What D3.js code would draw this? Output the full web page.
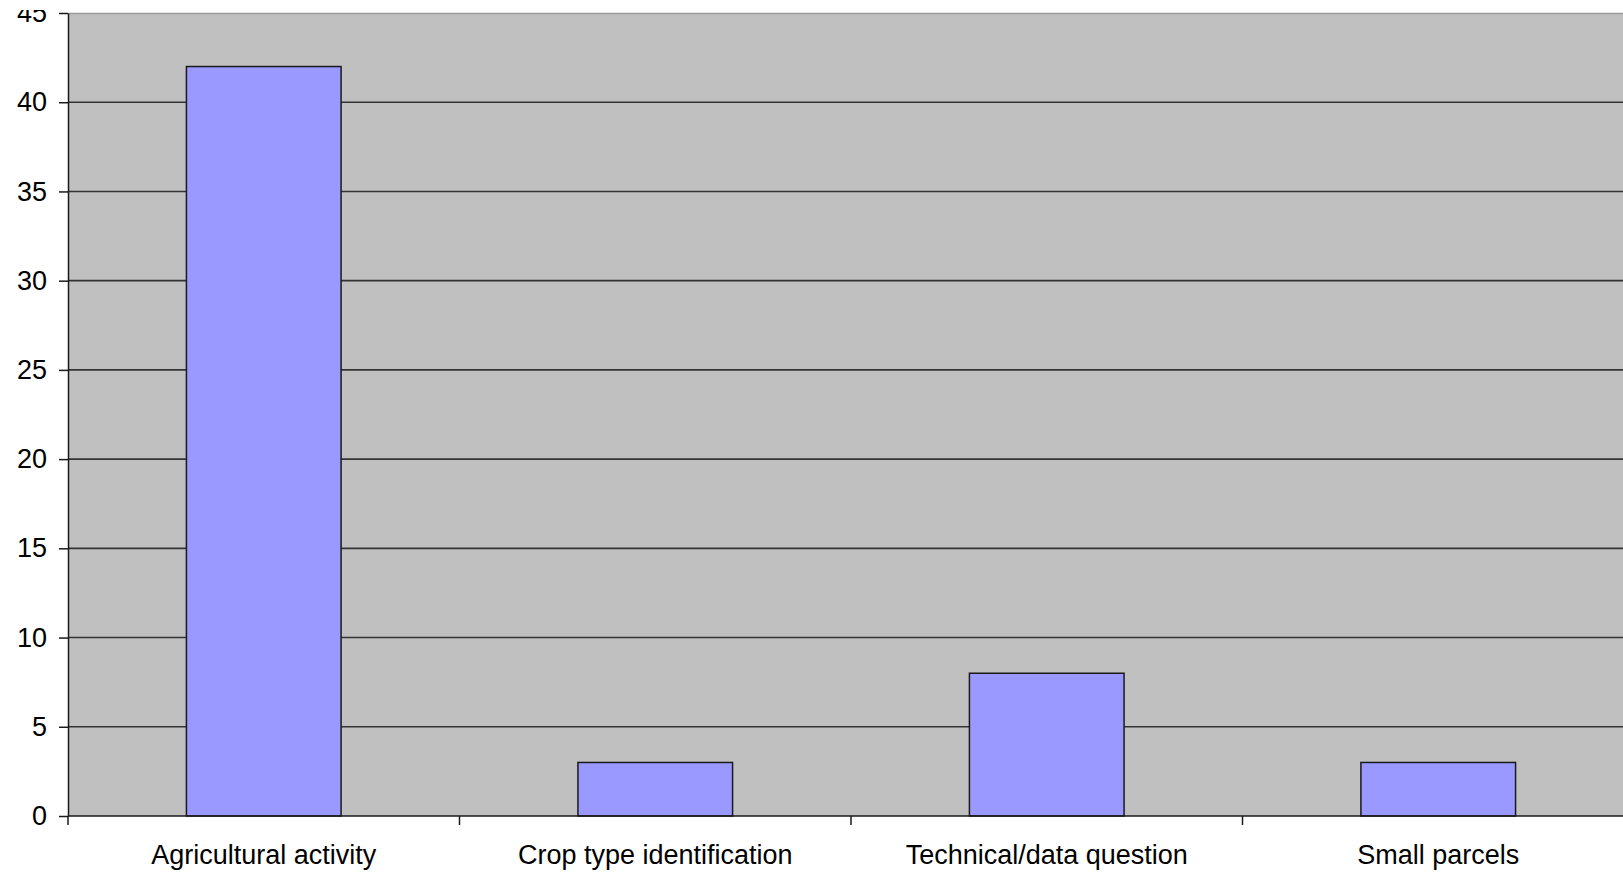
<!DOCTYPE html>
<html>
<head>
<meta charset="utf-8">
<script src="https://cdn.jsdelivr.net/npm/d3@7"></script>
<style>
  html, body { margin: 0; padding: 0; background: #ffffff; overflow: hidden; }
  svg { display: block; }
  text { font-family: "Liberation Sans", Arial, sans-serif; fill: #000; }
</style>
</head>
<body>
<svg id="chart" width="1623" height="872"></svg>
<script>
// Counts per category
const categories = ["Agricultural activity", "Crop type identification", "Technical/data question", "Small parcels"];
const values = [42, 3, 8, 3];
const yTicks = [0, 5, 10, 15, 20, 25, 30, 35, 40, 45];

const svg = d3.select("#chart");
const plotLeft = 68, plotTop = 13, plotBottom = 816;
const plotRight = 1634; // plot area runs past the right edge of the page
const fontSize = 27;

const x = d3.scaleBand().domain(categories).range([plotLeft, plotRight]).padding(0);
const y = d3.scaleLinear().domain([0, 45]).range([plotBottom, plotTop]);
const barFrac = 0.395;

// the frame is cut off a little above the plot area
svg.append("defs").append("clipPath").attr("id", "frame")
  .append("rect").attr("x", 0).attr("y", 10).attr("width", 1623).attr("height", 862);

// plot background
svg.append("rect")
  .attr("x", plotLeft).attr("y", plotTop)
  .attr("width", plotRight - plotLeft).attr("height", plotBottom - plotTop)
  .attr("fill", "#c0c0c0");

// top border
svg.append("line")
  .attr("x1", plotLeft).attr("x2", plotRight)
  .attr("y1", plotTop + 0.5).attr("y2", plotTop + 0.5)
  .attr("stroke", "#999999").attr("stroke-width", 1.5);

// horizontal gridlines
svg.append("g").selectAll("line")
  .data(yTicks.filter(d => d > 0 && d < 45))
  .join("line")
  .attr("x1", plotLeft).attr("x2", plotRight)
  .attr("y1", d => y(d)).attr("y2", d => y(d))
  .attr("stroke", "#333333").attr("stroke-width", 1.6);

// bars
svg.append("g").selectAll("rect")
  .data(values)
  .join("rect")
  .attr("x", (d, i) => x(categories[i]) + x.bandwidth() * (1 - barFrac) / 2)
  .attr("width", x.bandwidth() * barFrac)
  .attr("y", d => y(d))
  .attr("height", d => y(0) - y(d))
  .attr("fill", "#9999ff")
  .attr("stroke", "#1a1a1a")
  .attr("stroke-width", 1.5);

// y axis
const yAxis = d3.axisLeft(y).tickValues(yTicks).tickSize(9).tickPadding(12).tickSizeOuter(0);
const gy = svg.append("g")
  .attr("clip-path", "url(#frame)")
  .append("g")
  .attr("transform", `translate(${plotLeft},0)`).call(yAxis);
gy.select(".domain").attr("stroke", "#1a1a1a").attr("stroke-width", 1.5);
gy.selectAll(".tick line").attr("stroke", "#1a1a1a").attr("stroke-width", 1.5);
gy.selectAll(".tick text")
  .attr("font-size", fontSize)
  .attr("font-family", "Liberation Sans, Arial, sans-serif")
  .attr("fill", "#000");

// x axis: category boundary tick marks and labels
const gx = svg.append("g");
gx.append("line")
  .attr("x1", plotLeft).attr("x2", plotRight)
  .attr("y1", plotBottom).attr("y2", plotBottom)
  .attr("stroke", "#1a1a1a").attr("stroke-width", 1.5);
const bounds = categories.map(c => x(c)).concat([plotRight]);
gx.selectAll("line.bound")
  .data(bounds)
  .join("line")
  .attr("class", "bound")
  .attr("x1", d => d).attr("x2", d => d)
  .attr("y1", plotBottom).attr("y2", plotBottom + 9)
  .attr("stroke", "#1a1a1a").attr("stroke-width", 1.5);
gx.selectAll("text")
  .data(categories)
  .join("text")
  .attr("x", d => x(d) + x.bandwidth() / 2)
  .attr("y", 864)
  .attr("text-anchor", "middle")
  .attr("font-size", fontSize)
  .text(d => d);
</script>
</body>
</html>
